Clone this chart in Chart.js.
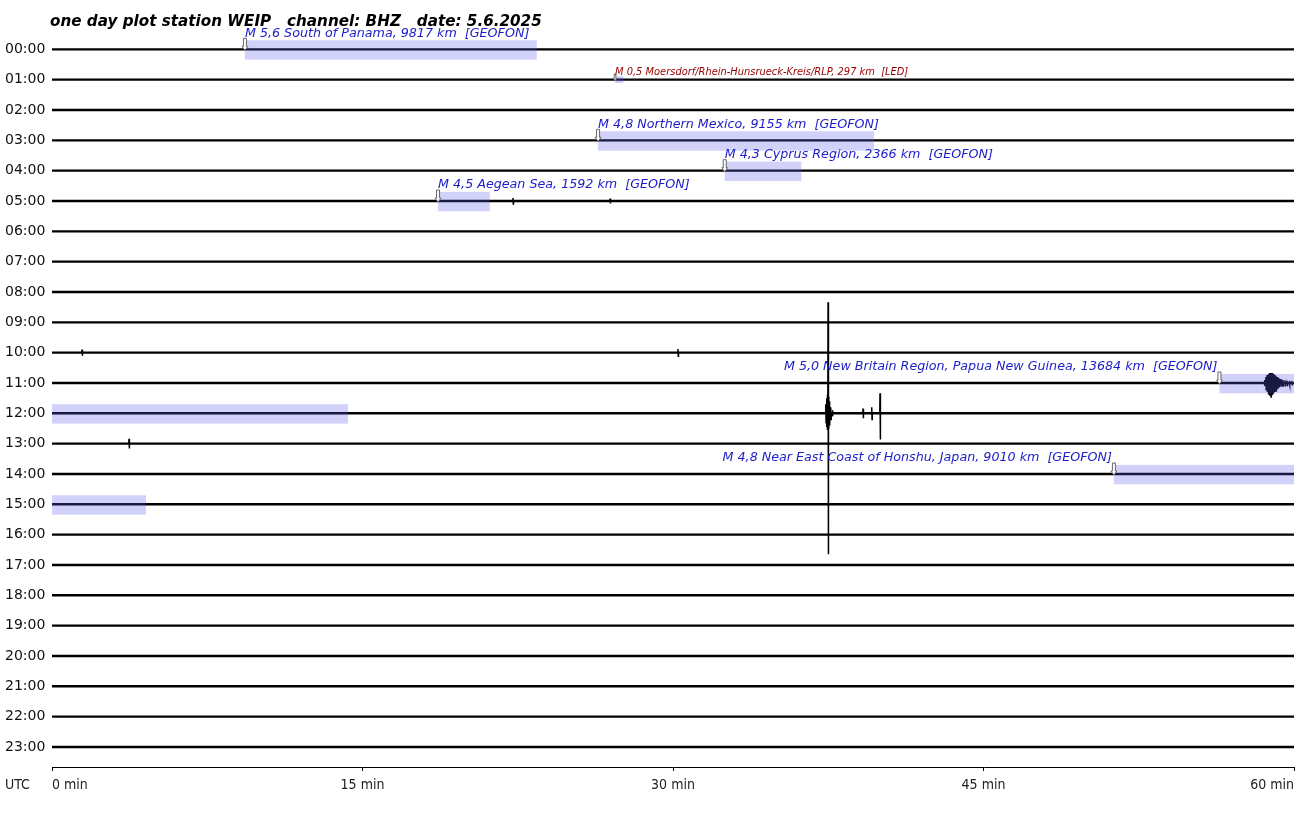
<!DOCTYPE html>
<html>
<head>
<meta charset="utf-8">
<title>one day plot WEIP BHZ</title>
<script src="https://cdn.jsdelivr.net/npm/chart.js@4.4.0/dist/chart.umd.min.js"></script>
<style>
  html, body { margin: 0; padding: 0; background: #fff; }
  canvas { display: block; }
</style>
</head>
<body>
<canvas id="heli" width="1304" height="813"></canvas>
<script>
// --- data -----------------------------------------------------------------
const rowLabels = ['00:00', '01:00', '02:00', '03:00', '04:00', '05:00', '06:00', '07:00',
  '08:00', '09:00', '10:00', '11:00', '12:00', '13:00', '14:00', '15:00',
  '16:00', '17:00', '18:00', '19:00', '20:00', '21:00', '22:00', '23:00'];
const minuteTicks = [0, 15, 30, 45, 60];
const titleText = 'one day plot station WEIP   channel: BHZ   date: 5.6.2025';

// events (start hour row, start minute, duration in minutes)
const eventRow = [0, 1, 3, 4, 5, 11, 14];
const eventStart = [9.32, 27.2, 26.38, 32.5, 18.65, 56.4, 51.3];
const eventDuration = [14.1, 0.4, 13.33, 3.7, 2.5, 17.9, 13.24];
const eventText = [
  'M 5,6 South of Panama, 9817 km  [GEOFON]',
  'M 0,5 Moersdorf/Rhein-Hunsrueck-Kreis/RLP, 297 km  [LED]',
  'M 4,8 Northern Mexico, 9155 km  [GEOFON]',
  'M 4,3 Cyprus Region, 2366 km  [GEOFON]',
  'M 4,5 Aegean Sea, 1592 km  [GEOFON]',
  'M 5,0 New Britain Region, Papua New Guinea, 13684 km  [GEOFON]',
  'M 4,8 Near East Coast of Honshu, Japan, 9010 km  [GEOFON]'
];
const eventLocal = [false, true, false, false, false, false, false];

// visible spikes / bursts in the traces (row, minute, amplitude up, down; in row units)
const spikeRow = [
  5, 5, 10, 10,
  11, 11, 11, 11, 11, 11, 11, 11, 11, 11, 11, 11, 11, 11, 11, 11, 11, 11, 11,
  12, 12, 12, 12, 12, 12, 12, 12, 12, 12, 12,
  13];
const spikeMinute = [
  22.27, 26.96, 1.45, 30.24,
  58.58, 58.64, 58.7, 58.76, 58.82, 58.88, 58.94, 59.0, 59.06, 59.12, 59.18, 59.24, 59.3, 59.38, 59.46, 59.56, 59.66, 59.78, 59.9,
  37.38, 37.42, 37.45, 37.49, 37.52, 37.56, 37.62, 37.7, 39.18, 39.6, 40.0,
  3.72];
const spikeUp = [
  0.1, 0.08, 0.1, 0.12,
  0.1, 0.2, 0.26, 0.3, 0.33, 0.33, 0.33, 0.3, 0.27, 0.24, 0.2, 0.17, 0.14, 0.12, 0.1, 0.09, 0.08, 0.07, 0.06,
  0.3, 0.5, 0.62, 3.66, 0.55, 0.4, 0.2, 0.1, 0.16, 0.2, 0.66,
  0.16];
const spikeDown = [
  0.1, 0.08, 0.1, 0.12,
  0.1, 0.22, 0.3, 0.38, 0.42, 0.46, 0.4, 0.35, 0.3, 0.26, 0.21, 0.17, 0.14, 0.12, 0.1, 0.09, 0.08, 0.07, 0.06,
  0.3, 0.45, 0.55, 4.65, 0.5, 0.4, 0.2, 0.1, 0.16, 0.2, 0.86,
  0.16];

// --- datasets ---------------------------------------------------------------
const datasets = [];
rowLabels.forEach((lab, r) => {
  datasets.push({
    label: lab,
    data: [{ x: 0, y: r }, { x: 60, y: r }],
    borderColor: '#000',
    borderWidth: 2.4,
    pointRadius: 0,
    tension: 0
  });
  const pts = [];
  spikeRow.forEach((sr, i) => {
    if (sr !== r) return;
    const m = spikeMinute[i];
    pts.push({ x: m - 0.01, y: r }, { x: m, y: r - spikeUp[i] },
      { x: m + 0.015, y: r + spikeDown[i] }, { x: m + 0.025, y: r }, { x: m + 0.03, y: null });
  });
  if (pts.length) {
    datasets.push({
      label: lab + ' spikes',
      data: pts,
      borderColor: '#000',
      borderWidth: 1.5,
      pointRadius: 0,
      spanGaps: false,
      tension: 0
    });
  }
});

// --- overlay: event windows, markers, labels, title, axis text ------------
const overlay = {
  id: 'overlay',
  afterDatasetsDraw(chart) {
    const { ctx, chartArea, scales: { x, y } } = chart;
    const rowH = Math.abs(y.getPixelForValue(1) - y.getPixelForValue(0));
    ctx.save();

    // highlighted windows (may wrap to the next hour row)
    eventRow.forEach((r, i) => {
      let row = r, start = eventStart[i], left = eventDuration[i];
      ctx.fillStyle = eventLocal[i] ? 'rgba(90,90,235,0.35)' : 'rgba(90,90,235,0.28)';
      while (left > 0) {
        const end = Math.min(60, start + left);
        const x0 = x.getPixelForValue(start), x1 = x.getPixelForValue(end);
        const yc = y.getPixelForValue(row);
        const top = yc - rowH * (eventLocal[i] ? 0.1 : 0.3);
        const bot = yc + rowH * (eventLocal[i] ? 0.1 : 0.34);
        ctx.fillRect(x0, top, x1 - x0, bot - top);
        left -= (end - start);
        start = 0;
        row += 1;
      }
    });

    // markers and labels
    eventRow.forEach((r, i) => {
      const px = x.getPixelForValue(eventStart[i]);
      const py = y.getPixelForValue(r) + 1;
      const s = eventLocal[i] ? 0.55 : 1;
      ctx.beginPath();
      ctx.moveTo(px - 1.5 * s, py - 12 * s);
      ctx.lineTo(px + 1.5 * s, py - 12 * s);
      ctx.lineTo(px + 1.5 * s, py - 4 * s);
      ctx.lineTo(px + 3 * s, py - 4 * s);
      ctx.lineTo(px, py);
      ctx.lineTo(px - 3 * s, py - 4 * s);
      ctx.lineTo(px - 1.5 * s, py - 4 * s);
      ctx.closePath();
      ctx.fillStyle = '#fff';
      ctx.fill();
      ctx.lineWidth = 1;
      ctx.strokeStyle = '#666';
      ctx.stroke();

      ctx.font = eventLocal[i] ? 'italic 9.9px "DejaVu Sans"' : 'italic 12.7px "DejaVu Sans"';
      ctx.fillStyle = eventLocal[i] ? '#990000' : '#1c1cc8';
      ctx.textBaseline = 'middle';
      const w = ctx.measureText(eventText[i]).width;
      const ty = y.getPixelForValue(r) - (eventLocal[i] ? 7 : 16);
      if (px + w > chartArea.right) {
        ctx.textAlign = 'right';
        ctx.fillText(eventText[i], px - 2, ty);
      } else {
        ctx.textAlign = 'left';
        ctx.fillText(eventText[i], px, ty);
      }
    });
    ctx.restore();
  },
  beforeDatasetsDraw(chart) {
    const { ctx, scales: { x } } = chart;
    ctx.save();
    ctx.fillStyle = '#000';
    ctx.font = 'bold italic 15.2px "DejaVu Sans"';
    ctx.textBaseline = 'middle';
    ctx.textAlign = 'left';
    ctx.fillText(titleText, 50, 22);

    ctx.font = '14px "DejaVu Sans Condensed", "DejaVu Sans"';
    ctx.fillStyle = '#222';
    const ly = x.bottom - 28;
    ctx.fillText('UTC', 5, ly);
    minuteTicks.forEach((t, i) => {
      ctx.textAlign = i === 0 ? 'left' : (i === minuteTicks.length - 1 ? 'right' : 'center');
      ctx.fillText(t + ' min', x.getPixelForValue(t), ly);
    });
    ctx.restore();
  }
};

new Chart(document.getElementById('heli'), {
  type: 'line',
  data: { datasets },
  options: {
    responsive: false,
    animation: false,
    events: [],
    layout: { padding: { top: 19, right: 10, left: 5, bottom: 0 } },
    plugins: { legend: { display: false }, tooltip: { enabled: false } },
    scales: {
      x: {
        type: 'linear',
        min: 0,
        max: 60,
        ticks: { stepSize: 15, display: false },
        grid: { drawOnChartArea: false, drawTicks: true, tickLength: 4, color: '#000' },
        border: { display: true, color: '#000', width: 1 },
        afterFit(scale) { scale.height = 46; }
      },
      y: {
        type: 'linear',
        reverse: true,
        min: -1,
        max: 23.66,
        afterBuildTicks(scale) {
          scale.ticks = rowLabels.map((_, i) => ({ value: i }));
        },
        ticks: {
          crossAlign: 'far',
          autoSkip: false,
          color: '#111',
          font: { family: '"DejaVu Sans"', size: 14 },
          callback: (v) => rowLabels[v] || ''
        },
        grid: { display: false },
        border: { display: false },
        afterFit(scale) { scale.width = 47; }
      }
    }
  },
  plugins: [overlay]
});
</script>
</body>
</html>
